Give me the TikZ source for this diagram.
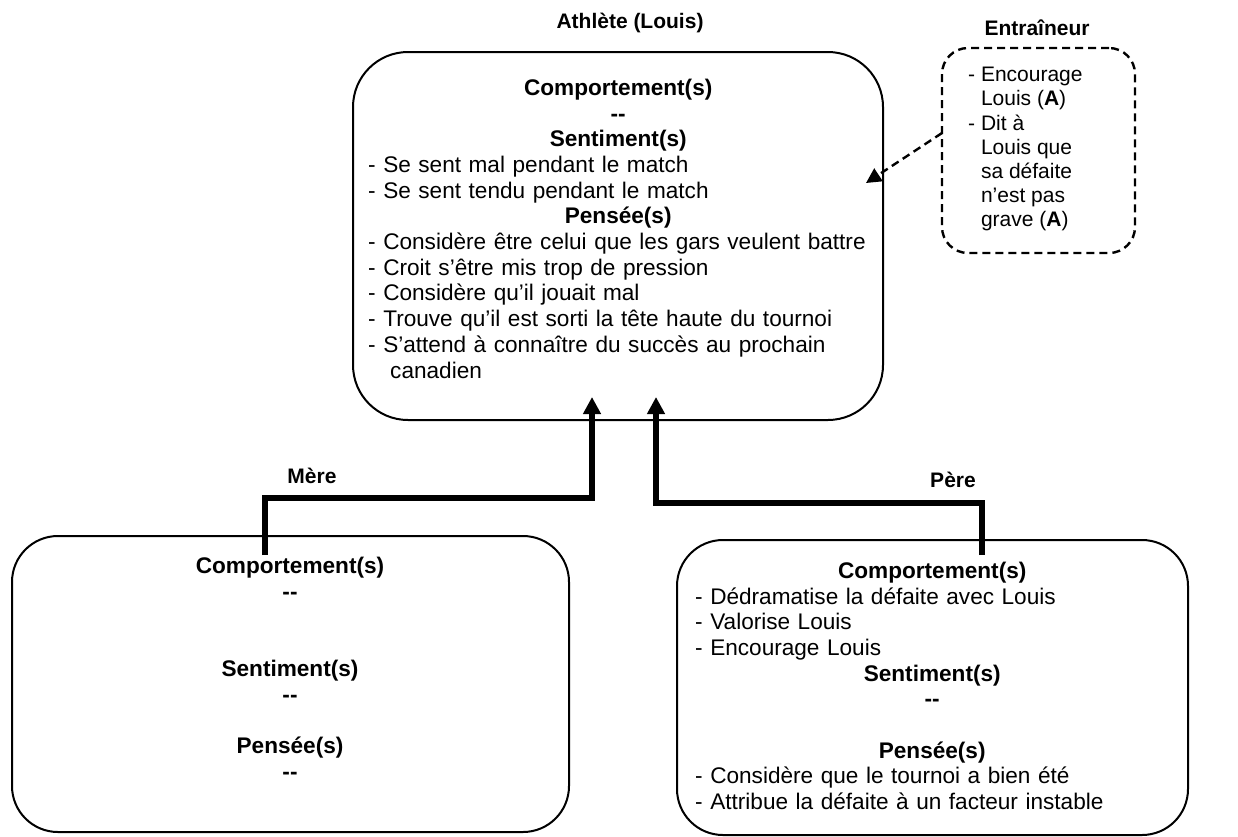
\documentclass[tikz,border=0pt]{standalone}
\usepackage{fontspec}
\setmainfont{Liberation Sans}
\usetikzlibrary{arrows.meta}
\setlength{\parindent}{0pt}
\hfuzz=50pt
\newcommand{\itemind}{\hphantom{-\ }}
\begin{document}
\begin{tikzpicture}[x=1pt,y=-1pt,
  panel/.style={draw, line width=2pt, rectangle, inner sep=0pt},
  coachbox/.style={draw, line width=2.4pt, dash pattern=on 8pt off 5pt, rectangle, rounded corners=26pt, inner sep=0pt},
  body/.style={inner sep=0pt, font=\fontsize{22.6}{25.7}\selectfont},
  smallbody/.style={inner sep=0pt, font=\fontsize{21}{24.2}\selectfont},
  rolelabel/.style={inner sep=0pt, font=\fontsize{21}{25}\selectfont\bfseries},
  conn/.style={line width=5.5pt, -{Triangle[length=17pt,width=17pt]}},
  dconn/.style={line width=2.4pt, dash pattern=on 8pt off 5pt, -{Triangle[length=15pt,width=15pt]}}]
\useasboundingbox (0,0) rectangle (1238,836);

% frames
\node[panel, rounded corners=55pt, minimum width=530pt, minimum height=368pt] (athlete) at (618,236) {};
\node[panel, rounded corners=46pt, minimum width=557pt, minimum height=296pt] (mere) at (290.5,684) {};
\node[panel, rounded corners=46pt, minimum width=511pt, minimum height=295pt] (pere) at (932.5,687.5) {};
\node[coachbox, minimum width=193pt, minimum height=205pt] (coach) at (1038.5,150.5) {};

% role labels
\node[rolelabel, anchor=base] (athletelbl) at (630,28) {Athlète (Louis)};
\node[rolelabel, anchor=base] (coachlbl) at (1037,35) {Entraîneur};
\node[rolelabel, anchor=base] (merelbl) at (312,483) {Mère};
\node[rolelabel, anchor=base] (perelbl) at (953,487) {Père};

% athlete contents
\node[body, text width=500pt, align=left, anchor=north west] (athletetxt) at (368,78.8) {%
{\centering\bfseries Comportement(s)\\-{}-\\Sentiment(s)\par}
- Se sent mal pendant le match\\
- Se sent tendu pendant le match\par
{\centering\bfseries Pensée(s)\par}
\mbox{- Considère être celui que les gars veulent battre}\\
- Croit s’être mis trop de pression\\
- Considère qu'il jouait mal\\
- Trouve qu'il est sorti la tête haute du tournoi\\
- S’attend à connaître du succès au prochain\\
\hspace*{22pt}canadien};

% coach contents
\node[smallbody, align=left, anchor=north west] (coachtxt) at (968,67) {%
- Encourage\\\itemind Louis (\textbf{A})\\- Dit à\\\itemind Louis que\\\itemind sa défaite\\\itemind n’est pas\\\itemind grave (\textbf{A})};

% mother contents
\node[body, font=\fontsize{22.6}{25.7}\selectfont\bfseries, align=center, anchor=north] (meretxt) at (290,557) {%
Comportement(s)\\-{}-\\\mbox{}\\\mbox{}\\Sentiment(s)\\-{}-\\\mbox{}\\Pensée(s)\\-{}-};

% father contents
\node[body, text width=474pt, align=left, anchor=north west] (peretxt) at (695,561.8) {%
{\centering\bfseries Comportement(s)\par}
- Dédramatise la défaite avec Louis\\
- Valorise Louis\\
- Encourage Louis\par
{\centering\bfseries Sentiment(s)\\-{}-\\\mbox{}\\Pensée(s)\par}
- Considère que le tournoi a bien été\\
- Attribue la défaite à un facteur instable};

% connector end points
\coordinate (merefoot) at (265,555);
\coordinate (meretip) at (592,397);
\coordinate (perefoot) at (982,555);
\coordinate (peretip) at (656,397);
\coordinate (coachstart) at (942,133);
\coordinate (coachtip) at (866,183);

% connectors
\draw[conn] (merefoot) -- ++(0,-57) -| (meretip);
\draw[conn] (perefoot) -- ++(0,-52) -| (peretip);
\draw[dconn] (coachstart) -- (coachtip);
\end{tikzpicture}
\end{document}
